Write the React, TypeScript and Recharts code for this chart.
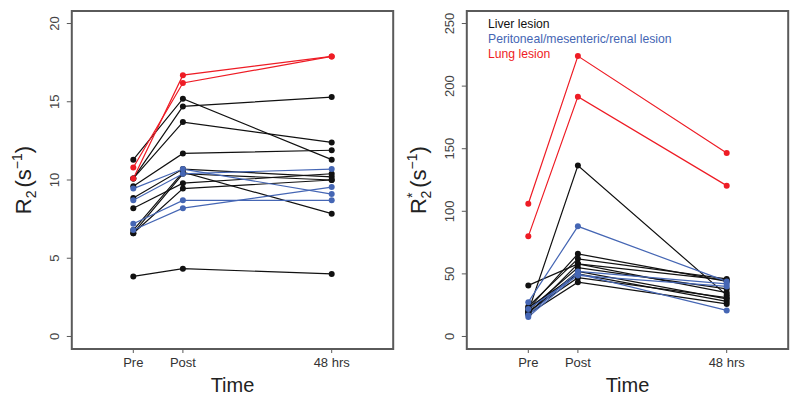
// @ts-nocheck
import { ComposedChart, Line, XAxis, YAxis, ReferenceArea } from "recharts";

const times = [1, 2, 5];
const timeLabels = ["Pre", "Post", "48 hrs"];

// R2 (s^-1)
const r2Liver = [
  [11.3, 15.2, 11.3],
  [10.1, 14.7, 15.3],
  [10.1, 13.7, 12.4],
  [9.6, 11.7, 11.9],
  [8.85, 10.7, 10.2],
  [6.8, 10.5, 7.85],
  [6.6, 10.4, 10.0],
  [8.2, 9.8, 10.4],
  [6.6, 9.45, 10.0],
  [3.84, 4.33, 4.0],
];
const r2Perit = [
  [9.45, 10.7, 9.1],
  [8.7, 10.4, 10.7],
  [7.2, 8.7, 8.7],
  [6.8, 8.2, 9.55],
];
const r2Lung = [
  [10.1, 16.7, 17.9],
  [10.8, 16.2, 17.9],
];

// R2* (s^-1)
const r2sLiver = [
  [40.8, 58, 45],
  [20, 136.5, 33],
  [22, 66, 44],
  [24, 62, 46],
  [18, 58, 35],
  [21, 55, 38],
  [19, 52, 30],
  [23, 50, 28],
  [20, 47, 31],
  [18, 43.4, 26],
];
const r2sPerit = [
  [27.4, 88, 44],
  [15.5, 50, 20.8],
  [17, 52, 42],
  [22, 48.8, 40],
];
const r2sLung = [
  [106, 224, 146.6],
  [80, 191.6, 120.5],
];

const r2Ticks = [0, 5, 10, 15, 20];
const r2sTicks = [0, 50, 100, 150, 200, 250];

const BLACK = "#111111";
const BLUE = "#4566b4";
const RED = "#ee1c25";
const FRAME = "#5a5a5a";
const FONT = "'Liberation Sans', Arial, sans-serif";

const toRows = (vals) => times.map((t, i) => ({ t, v: vals[i] }));

const YTick = ({ x, y, payload }) => (
  <g transform={`translate(${x - 6},${y})`}>
    <text transform="rotate(-90)" textAnchor="middle" fontSize={13} fill="#444" fontFamily={FONT}>
      {payload.value}
    </text>
  </g>
);

const XTick = ({ x, y, payload }) => (
  <text x={x} y={y + 12} textAnchor="middle" fontSize={13} fill="#333" fontFamily={FONT}>
    {timeLabels[times.indexOf(payload.value)]}
  </text>
);

const TimeLabel = ({ viewBox }) => (
  <text x={viewBox.x + viewBox.width / 2} y={392} textAnchor="middle" fontSize={20} fill="#222" fontFamily={FONT}>
    Time
  </text>
);

const makeYLabel = (star) => ({ viewBox }) => {
  const cx = viewBox.x + viewBox.width - 49;
  const cy = viewBox.y + viewBox.height / 2;
  return (
    <g transform={`translate(${cx + 8},${cy})`}>
      <text transform="rotate(-90)" textAnchor="middle" fontSize={22} fill="#222" fontFamily={FONT}>
        R
        {star && <tspan fontSize={14} dy={-9}>*</tspan>}
        <tspan fontSize={14} dx={star ? -6 : 0} dy={star ? 14 : 5}>2</tspan>
        <tspan dy={-5} dx={3}>(s</tspan>
        <tspan fontSize={14} dy={-9}>−1</tspan>
        <tspan dy={9}>)</tspan>
      </text>
    </g>
  );
};

const Panel = ({ liver, perit, lung, ticks, yMax, axisWidth, rightMargin, star }) => {
  const pad = yMax * 0.04;
  const series = [
    ...liver.map((v) => [v, BLACK]),
    ...perit.map((v) => [v, BLUE]),
    ...lung.map((v) => [v, RED]),
  ];
  return (
    <ComposedChart width={400} height={402} margin={{ top: 11, right: rightMargin, bottom: 0, left: 0 }}>
      <XAxis
        type="number"
        dataKey="t"
        domain={[-0.24, 6.24]}
        ticks={times}
        allowDataOverflow
        axisLine={false}
        tickLine={{ stroke: FRAME }}
        tickSize={4}
        tick={<XTick />}
        height={53}
        label={<TimeLabel />}
      />
      <YAxis
        type="number"
        domain={[-pad, yMax + pad]}
        ticks={ticks}
        allowDataOverflow
        axisLine={false}
        tickLine={{ stroke: FRAME }}
        tickSize={5}
        tick={<YTick />}
        width={axisWidth}
        label={makeYLabel(star)}
      />
      <ReferenceArea
        x1={-0.24}
        x2={6.24}
        y1={-pad}
        y2={yMax + pad}
        fill="none"
        stroke={FRAME}
        strokeWidth={2}
        ifOverflow="visible"
      />
      {series.map(([vals, color], i) => (
        <Line
          key={i}
          data={toRows(vals)}
          dataKey="v"
          stroke={color}
          strokeWidth={1.2}
          dot={{ r: 3, fill: color, stroke: color, strokeWidth: 0 }}
          isAnimationActive={false}
        />
      ))}
    </ComposedChart>
  );
};

export default function App() {
  return (
    <div style={{ position: "absolute", left: 0, top: 0, width: 800, height: 402, background: "#fff" }}>
      <div style={{ position: "absolute", left: 0, top: 0 }}>
        <Panel liver={r2Liver} perit={r2Perit} lung={r2Lung} ticks={r2Ticks} yMax={20} axisWidth={71.8} rightMargin={6.8} />
      </div>
      <div style={{ position: "absolute", left: 400, top: 0 }}>
        <Panel liver={r2sLiver} perit={r2sPerit} lung={r2sLung} ticks={r2sTicks} yMax={250} axisWidth={66.8} rightMargin={11.8} star />
      </div>
      <div style={{ position: "absolute", left: 488, top: 17, fontFamily: FONT, fontSize: 12.2, lineHeight: "15px" }}>
        <div style={{ color: BLACK }}>Liver lesion</div>
        <div style={{ color: BLUE }}>Peritoneal/mesenteric/renal lesion</div>
        <div style={{ color: RED }}>Lung lesion</div>
      </div>
    </div>
  );
}
